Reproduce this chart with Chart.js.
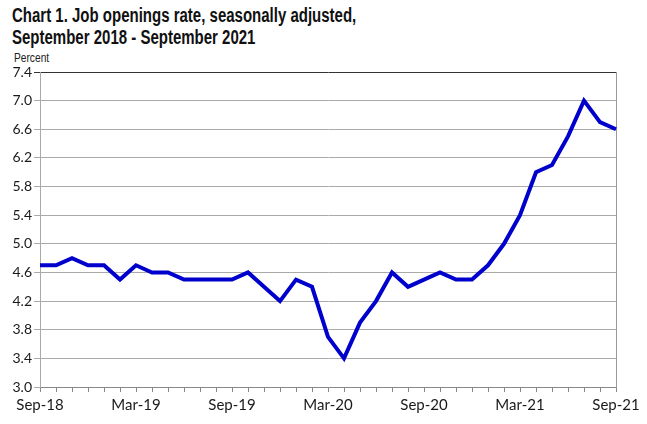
<!DOCTYPE html>
<html>
<head>
<meta charset="utf-8">
<script src="https://cdn.jsdelivr.net/npm/chart.js@4"></script>
<style>
  html, body { margin: 0; padding: 0; background: #fff; }
  #wrap { position: relative; width: 647px; height: 424px; }
  #title {
    position: absolute; left: 12px; top: 4px;
    font: bold 20px "Liberation Sans", Arial, sans-serif;
    line-height: 22px; color: #111;
    transform: scaleX(0.75); transform-origin: left top; white-space: nowrap;
  }
  #unit {
    position: absolute; left: 14px; top: 51px;
    font: 12px "Liberation Sans", Arial, sans-serif; color: #222;
    transform: scaleX(0.85); transform-origin: left top;
  }
  canvas { position: absolute; left: 0; top: 0; }
</style>
</head>
<body>
<div id="wrap">
  <div id="title">Chart 1. Job openings rate, seasonally adjusted,<br>September 2018 - September 2021</div>
  <div id="unit">Percent</div>
  <canvas id="chart" width="647" height="424"></canvas>
</div>
<script>
  var months = [
    'Sep-18', 'Oct-18', 'Nov-18', 'Dec-18', 'Jan-19', 'Feb-19', 'Mar-19', 'Apr-19', 'May-19',
    'Jun-19', 'Jul-19', 'Aug-19', 'Sep-19', 'Oct-19', 'Nov-19', 'Dec-19', 'Jan-20', 'Feb-20',
    'Mar-20', 'Apr-20', 'May-20', 'Jun-20', 'Jul-20', 'Aug-20', 'Sep-20', 'Oct-20', 'Nov-20',
    'Dec-20', 'Jan-21', 'Feb-21', 'Mar-21', 'Apr-21', 'May-21', 'Jun-21', 'Jul-21', 'Aug-21',
    'Sep-21'
  ];

  var rates = [
    4.7, 4.7, 4.8, 4.7, 4.7, 4.5, 4.7, 4.6, 4.6,
    4.5, 4.5, 4.5, 4.5, 4.6, 4.4, 4.2, 4.5, 4.4,
    3.7, 3.4, 3.9, 4.2, 4.6, 4.4, 4.5, 4.6, 4.5,
    4.5, 4.7, 5.0, 5.4, 6.0, 6.1, 6.5, 7.0, 6.7,
    6.6
  ];

  var yTicks = [3.0, 3.4, 3.8, 4.2, 4.6, 5.0, 5.4, 5.8, 6.2, 6.6, 7.0, 7.4];

  var tickFamily = 'Lato, "Open Sans", sans-serif';

  new Chart(document.getElementById('chart'), {
    type: 'line',
    data: {
      labels: months,
      datasets: [
        {
          label: 'Job openings rate',
          data: rates,
          borderColor: '#0000cc',
          borderWidth: 4,
          pointRadius: 0,
          tension: 0,
          fill: false,
        },
      ],
    },
    options: {
      responsive: false,
      animation: false,
      layout: { padding: { top: 72, right: 31, bottom: 0, left: 0 } },
      plugins: {
        legend: { display: false },
        tooltip: { enabled: false },
      },
      scales: {
        x: {
          offset: false,
          grid: {
            display: true,
            drawOnChartArea: false,
            color: '#888',
            tickLength: 5,
          },
          border: { color: '#888', width: 1 },
          ticks: {
            autoSkip: false,
            maxRotation: 0,
            padding: 4,
            color: '#1a1a1a',
            font: { family: tickFamily, size: 15 },
            callback: function (v, i) { return i % 6 === 0 ? months[i] : ''; },
          },
          afterFit: function (s) { s.height = 37; },
        },
        y: {
          min: 3.0,
          max: 7.4,
          afterBuildTicks: function (s) {
            s.ticks = yTicks.map(function (v) { return { value: v }; });
          },
          grid: {
            color: function (c) { return c.tick && c.tick.value === 7.4 ? '#333' : '#aaa'; },
            lineWidth: 1,
            tickLength: 6,
          },
          border: { color: '#aaa', width: 1 },
          ticks: {
            padding: 2,
            color: '#1a1a1a',
            font: { family: tickFamily, size: 14 },
            callback: function (v) { return v.toFixed(1); },
          },
          afterFit: function (s) { s.width = 40; },
        },
        y2: {
          position: 'right',
          min: 3.0,
          max: 7.4,
          grid: { display: false },
          border: { color: '#999', width: 1 },
          ticks: { display: false },
          afterFit: function (s) { s.width = 0; },
        },
      },
    },
  });
</script>
</body>
</html>
